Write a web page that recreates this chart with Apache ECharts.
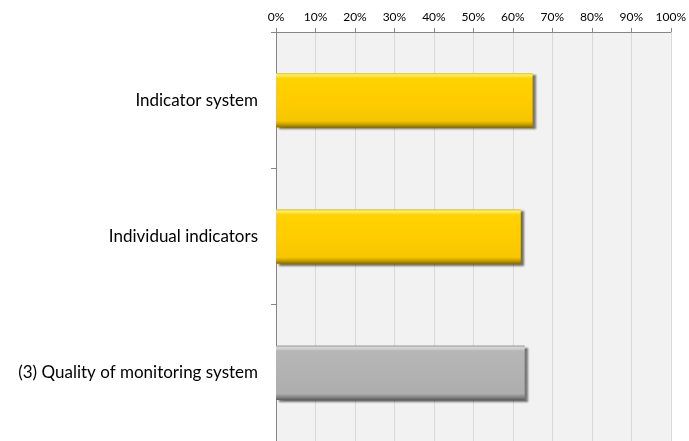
<!DOCTYPE html>
<html>
<head>
<meta charset="utf-8">
<script src="https://cdn.jsdelivr.net/npm/echarts@6/dist/echarts.min.js"></script>
<style>
  html, body { margin: 0; padding: 0; background: #ffffff; }
  #chart { width: 689px; height: 441px; }
</style>
</head>
<body>
<div id="chart"></div>
<script>
// Categories, top to bottom
const categories = ['Indicator system', 'Individual indicators', '(3) Quality of monitoring system'];
// Share of respondents (%)
const values = [65, 62, 63];
// Bar palette: first two yellow, last grey
const barKinds = ['yellow', 'yellow', 'grey'];

const fills = {
  yellow: new echarts.graphic.LinearGradient(0, 0, 0, 1, [
    { offset: 0, color: '#e8c800' },
    { offset: 0.04, color: '#fff060' },
    { offset: 0.1, color: '#ffd200' },
    { offset: 0.5, color: '#ffcc00' },
    { offset: 0.88, color: '#f7c600' },
    { offset: 0.94, color: '#c8a000' },
    { offset: 1, color: '#8a7000' }
  ]),
  grey: new echarts.graphic.LinearGradient(0, 0, 0, 1, [
    { offset: 0, color: '#9a9a9a' },
    { offset: 0.04, color: '#dadada' },
    { offset: 0.1, color: '#b6b6b6' },
    { offset: 0.5, color: '#b2b2b2' },
    { offset: 0.88, color: '#aeaeae' },
    { offset: 0.94, color: '#8a8a8a' },
    { offset: 1, color: '#5a5a5a' }
  ])
};

const chart = echarts.init(document.getElementById('chart'));
chart.setOption({
  animation: false,
  grid: {
    left: 276, right: 17, top: 32, height: 411,
    show: true, backgroundColor: '#f2f2f2', borderWidth: 0
  },
  xAxis: {
    type: 'value', position: 'top', min: 0, max: 100, interval: 10,
    axisLine: { show: true, lineStyle: { color: '#868686', width: 1 } },
    axisTick: { show: true, length: 4, lineStyle: { color: '#868686' } },
    axisLabel: {
      formatter: '{value}%', color: '#000', fontFamily: 'Lato', fontSize: 12, margin: 9
    },
    splitLine: { show: true, lineStyle: { color: '#d9d9d9', width: 1 } }
  },
  yAxis: {
    type: 'category', data: categories, inverse: true,
    axisLine: { show: true, lineStyle: { color: '#868686', width: 1 } },
    axisTick: { show: true, length: 5, lineStyle: { color: '#868686' } },
    axisLabel: { color: '#000', fontFamily: 'Lato', fontSize: 17, margin: 18 }
  },
  series: [{
    type: 'bar',
    barWidth: '40%',
    data: values.map((v, i) => ({
      value: v,
      itemStyle: {
        color: fills[barKinds[i]],
        shadowColor: 'rgba(0,0,0,0.55)',
        shadowBlur: 2,
        shadowOffsetX: 3,
        shadowOffsetY: 2
      }
    }))
  }]
});
</script>
</body>
</html>
